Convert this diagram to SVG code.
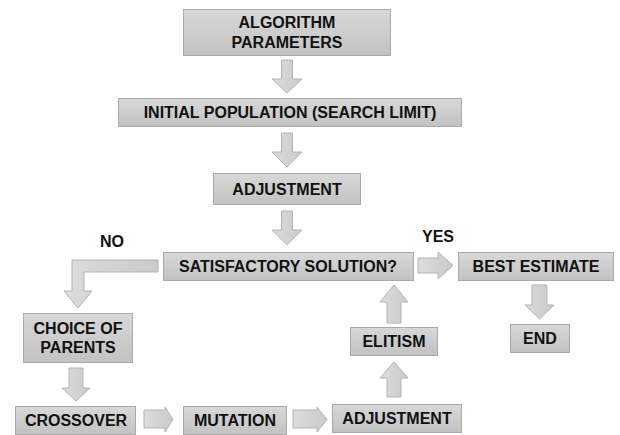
<svg xmlns="http://www.w3.org/2000/svg" width="620" height="435" viewBox="0 0 620 435">
<defs>
<linearGradient id="boxg" x1="0" y1="0" x2="0" y2="1">
<stop offset="0" stop-color="#d8d8d8"/>
<stop offset="1" stop-color="#c2c2c2"/>
</linearGradient>
<linearGradient id="arrg" x1="0" y1="0" x2="1" y2="0">
<stop offset="0" stop-color="#dcdcdc"/>
<stop offset="1" stop-color="#cacaca"/>
</linearGradient>
<style>
.box{fill:url(#boxg);stroke:#a9a9a9;stroke-width:1}
.arr{fill:url(#arrg);stroke:#b3b3b3;stroke-width:1;stroke-linejoin:miter}
text{font-family:"Liberation Sans",Arial,Helvetica,sans-serif;font-weight:bold;font-size:16px;fill:#111;text-anchor:middle}
</style>
</defs>
<rect width="620" height="435" fill="#ffffff"/>
<g id="connectors">
<path class="arr" d="M281.5,60 H292.5 V79 H302 L287,93 L272,79 H281.5 Z"/>
<path class="arr" d="M281.5,133 H292.5 V152 H302 L287,167 L272,152 H281.5 Z"/>
<path class="arr" d="M281.5,211 H292.5 V230 H302 L287,245 L272,230 H281.5 Z"/>
<path class="arr" d="M158,260 H72 V291 H64 L78,308 L92,291 H84 V272 H158 Z"/>
<path class="arr" d="M418,258 H438 V252 L453,265.5 L438,279 V273 H418 Z"/>
<path class="arr" d="M532,285 H547 V305 H554 L539.5,319 L525,305 H532 Z"/>
<path class="arr" d="M69,368 H83 V388 H90 L76,401 L62,388 H69 Z"/>
<path class="arr" d="M144,410 H165 V407 L173,419.5 L165,432 V428 H144 Z"/>
<path class="arr" d="M293,410 H317 V407 L327,419.5 L317,432 V428 H293 Z"/>
<path class="arr" d="M387,397 V378 H380 L394,362 L408,378 H401 V397 Z"/>
<path class="arr" d="M387,323 V302 H380 L394,285 L408,302 H401 V323 Z"/>
<text x="112" y="247">NO</text>
<text x="438" y="242">YES</text>
</g>
<g id="n_params">
<rect class="box" x="183.5" y="9.5" width="207" height="46"/>
<text x="287" y="28">ALGORITHM</text>
<text x="287" y="48">PARAMETERS</text>
</g>
<g id="n_initial">
<rect class="box" x="118.5" y="98.5" width="343" height="28"/>
<text x="290" y="118">INITIAL POPULATION (SEARCH LIMIT)</text>
</g>
<g id="n_adjust1">
<rect class="box" x="213.5" y="173.5" width="147" height="31"/>
<text x="287" y="195">ADJUSTMENT</text>
</g>
<g id="n_satisfactory">
<rect class="box" x="163.5" y="252.5" width="250" height="28"/>
<text x="288" y="272">SATISFACTORY SOLUTION?</text>
</g>
<g id="n_best">
<rect class="box" x="458.5" y="252.5" width="155" height="28"/>
<text x="536" y="272">BEST ESTIMATE</text>
</g>
<g id="n_end">
<rect class="box" x="510.5" y="324.5" width="59" height="28"/>
<text x="540" y="344">END</text>
</g>
<g id="n_elitism">
<rect class="box" x="350.5" y="327.5" width="87" height="28"/>
<text x="394" y="347">ELITISM</text>
</g>
<g id="n_adjust2">
<rect class="box" x="332.5" y="404.5" width="129" height="28"/>
<text x="397" y="424">ADJUSTMENT</text>
</g>
<g id="n_choice">
<rect class="box" x="23.5" y="313.5" width="109" height="49"/>
<text x="78" y="334">CHOICE OF</text>
<text x="78" y="353">PARENTS</text>
</g>
<g id="n_crossover">
<rect class="box" x="15.5" y="406.5" width="120" height="28"/>
<text x="76" y="426">CROSSOVER</text>
</g>
<g id="n_mutation">
<rect class="box" x="183.5" y="406.5" width="103" height="28"/>
<text x="235" y="426">MUTATION</text>
</g>
</svg>
